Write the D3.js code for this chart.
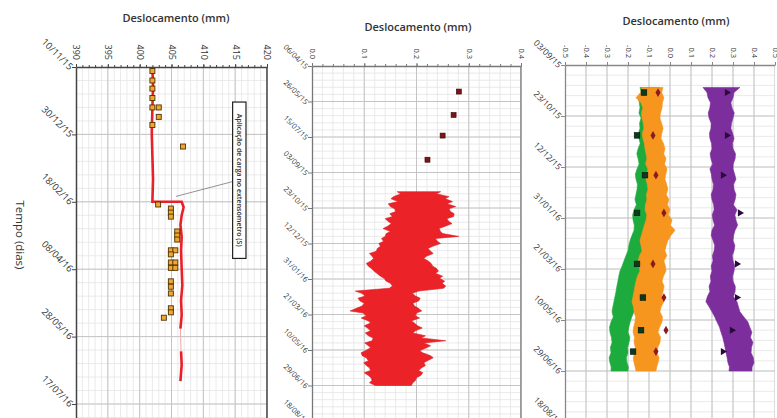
<!DOCTYPE html>
<html>
<head>
<meta charset="utf-8">
<script src="https://cdn.jsdelivr.net/npm/d3@7"></script>
<style>
  body { margin: 0; background: #fff; }
  text { font-family: "Open Sans", sans-serif; fill: #333; }
</style>
</head>
<body>
<div id="chart"></div>
<script>
var parse = d3.timeParse("%d/%m/%y");

// ---- panel 1 : extensometer (390..420)
var p1Ticks = [390, 395, 400, 405, 410, 415, 420];
var p1Dates = ["10/11/15", "30/12/15", "18/02/16", "08/04/16", "28/05/16", "17/07/16"];
var p1LineDates = ["10/11/15", "25/11/15", "10/12/15", "29/12/15", "15/01/16", "01/02/16", "18/02/16", "18/02/16",
  "22/02/16", "28/02/16", "06/03/16", "15/03/16", "25/03/16", "08/04/16", "20/04/16", "01/05/16", "12/05/16",
  "22/05/16", "30/05/16", "08/06/16", "18/06/16", "30/06/16"];
var p1LineValues = [402.0, 402.1, 402.0, 401.9, 402.0, 402.1, 402.0, 406.6,
  406.9, 406.6, 406.4, 406.6, 406.5, 406.6, 406.7, 406.5, 406.6,
  406.4, null, 406.5, 406.6, 406.4];
var p1MarkDates = ["13/11/15", "20/11/15", "26/11/15", "03/12/15", "10/12/15", "10/12/15", "17/12/15", "23/12/15",
  "08/01/16", "20/02/16", "23/02/16", "26/02/16", "29/02/16", "11/03/16", "14/03/16", "17/03/16", "25/03/16",
  "25/03/16", "28/03/16", "03/04/16", "03/04/16", "07/04/16", "07/04/16", "17/04/16", "21/04/16", "26/04/16",
  "07/05/16", "10/05/16", "14/05/16"];
var p1MarkValues = [402.0, 402.0, 402.0, 402.0, 402.0, 403.0, 403.0, 402.0,
  406.8, 402.9, 404.9, 404.9, 404.9, 405.9, 405.9, 405.9, 404.9,
  405.6, 404.9, 404.9, 405.6, 404.9, 405.6, 404.9, 404.9, 404.9,
  404.9, 404.9, 403.8];
var p1Note = "Aplicação de carga no extensómetro (S)";

// ---- panel 2 : single sensor (0..0.4)
var p2Ticks = [0.0, 0.1, 0.2, 0.3, 0.4];
var p2Dates = ["06/04/15", "26/05/15", "15/07/15", "03/09/15", "23/10/15", "12/12/15", "31/01/16",
  "21/03/16", "10/05/16", "29/06/16", "18/08/16"];
var p2MarkDates = ["12/05/15", "14/06/15", "13/07/15", "16/08/15"];
var p2MarkValues = [0.281, 0.271, 0.250, 0.221];
var p2BandDates = ["30/09/15", "03/10/15", "07/10/15", "10/10/15", "14/10/15", "17/10/15", "21/10/15", "24/10/15",
  "28/10/15", "31/10/15", "04/11/15", "07/11/15", "11/11/15", "14/11/15", "18/11/15", "21/11/15", "25/11/15",
  "28/11/15", "02/12/15", "05/12/15", "09/12/15", "12/12/15", "16/12/15", "19/12/15", "23/12/15", "26/12/15",
  "30/12/15", "02/01/16", "06/01/16", "09/01/16", "13/01/16", "16/01/16", "20/01/16", "23/01/16", "27/01/16",
  "30/01/16", "03/02/16", "06/02/16", "10/02/16", "13/02/16", "17/02/16", "20/02/16", "24/02/16", "27/02/16",
  "02/03/16", "05/03/16", "09/03/16", "12/03/16", "16/03/16", "19/03/16", "23/03/16", "26/03/16", "30/03/16",
  "02/04/16", "06/04/16", "09/04/16", "13/04/16", "16/04/16", "20/04/16", "23/04/16", "27/04/16", "30/04/16",
  "04/05/16", "07/05/16", "11/05/16", "14/05/16", "18/05/16", "21/05/16", "25/05/16", "28/05/16", "01/06/16",
  "04/06/16", "08/06/16", "11/06/16", "15/06/16", "18/06/16", "22/06/16", "25/06/16", "29/06/16"];
var p2BandMin = [0.163, 0.170, 0.156, 0.151, 0.165, 0.146, 0.150, 0.158, 0.160, 0.149,
  0.154, 0.140, 0.146, 0.152, 0.144, 0.136, 0.150, 0.142, 0.140, 0.133,
  0.137, 0.128, 0.131, 0.125, 0.123, 0.110, 0.115, 0.118, 0.112, 0.104,
  0.108, 0.113, 0.119, 0.124, 0.131, 0.138, 0.142, 0.150, 0.154, 0.148,
  0.083, 0.095, 0.102, 0.088, 0.092, 0.100, 0.096, 0.086, 0.073, 0.098,
  0.104, 0.094, 0.108, 0.112, 0.100, 0.106, 0.112, 0.102, 0.108, 0.117,
  0.115, 0.101, 0.108, 0.112, 0.102, 0.094, 0.096, 0.104, 0.108, 0.099,
  0.104, 0.110, 0.112, 0.100, 0.108, 0.113, 0.115, 0.110, 0.121];
var p2BandMax = [0.246, 0.238, 0.262, 0.255, 0.269, 0.258, 0.275, 0.262, 0.265, 0.272,
  0.271, 0.258, 0.262, 0.268, 0.254, 0.243, 0.246, 0.250, 0.281, 0.236,
  0.240, 0.246, 0.231, 0.222, 0.227, 0.232, 0.219, 0.214, 0.223, 0.228,
  0.231, 0.238, 0.242, 0.236, 0.250, 0.244, 0.254, 0.249, 0.256, 0.252,
  0.204, 0.192, 0.198, 0.207, 0.204, 0.193, 0.196, 0.203, 0.210, 0.200,
  0.198, 0.206, 0.190, 0.196, 0.202, 0.211, 0.198, 0.193, 0.217, 0.209,
  0.256, 0.214, 0.227, 0.219, 0.206, 0.212, 0.227, 0.232, 0.221, 0.214,
  0.217, 0.210, 0.204, 0.212, 0.208, 0.200, 0.198, 0.193, 0.190];

// ---- panel 3 : three sensors (-0.5..0.5)
var p3Ticks = [-0.5, -0.4, -0.3, -0.2, -0.1, 0.0, 0.1, 0.2, 0.3, 0.4, 0.5];
var p3Dates = ["03/09/15", "23/10/15", "12/12/15", "31/01/16", "21/03/16", "10/05/16", "29/06/16", "18/08/16"];
var p3BandDates = ["25/09/15", "30/09/15", "05/10/15", "10/10/15", "15/10/15", "20/10/15", "25/10/15", "30/10/15",
  "04/11/15", "09/11/15", "14/11/15", "19/11/15", "24/11/15", "29/11/15", "04/12/15", "09/12/15", "14/12/15",
  "19/12/15", "24/12/15", "29/12/15", "03/01/16", "08/01/16", "13/01/16", "18/01/16", "23/01/16", "28/01/16",
  "02/02/16", "07/02/16", "12/02/16", "17/02/16", "22/02/16", "27/02/16", "03/03/16", "08/03/16", "13/03/16",
  "18/03/16", "23/03/16", "28/03/16", "02/04/16", "07/04/16", "12/04/16", "17/04/16", "22/04/16", "27/04/16",
  "02/05/16", "07/05/16", "12/05/16", "17/05/16", "22/05/16", "27/05/16", "01/06/16", "06/06/16", "11/06/16",
  "16/06/16", "21/06/16", "25/06/16", "29/06/16"];
var greenMin = [-0.143, -0.136, -0.152, -0.146, -0.143, -0.148, -0.138, -0.145, -0.143, -0.150,
  -0.148, -0.142, -0.152, -0.158, -0.152, -0.147, -0.157, -0.165, -0.162, -0.155,
  -0.157, -0.162, -0.167, -0.160, -0.171, -0.178, -0.176, -0.170, -0.171, -0.181,
  -0.190, -0.196, -0.200, -0.210, -0.219, -0.228, -0.238, -0.244, -0.248, -0.253,
  -0.257, -0.262, -0.267, -0.272, -0.276, -0.270, -0.281, -0.288, -0.286, -0.279,
  -0.276, -0.284, -0.281, -0.290, -0.286, -0.280, -0.281];
var greenMax = [-0.048, -0.055, -0.038, -0.045, -0.048, -0.052, -0.057, -0.064, -0.062, -0.058,
  -0.067, -0.074, -0.071, -0.080, -0.086, -0.090, -0.095, -0.088, -0.090, -0.082,
  -0.086, -0.092, -0.095, -0.104, -0.100, -0.093, -0.095, -0.102, -0.105, -0.098,
  -0.105, -0.110, -0.114, -0.108, -0.119, -0.124, -0.129, -0.122, -0.133, -0.140,
  -0.143, -0.148, -0.152, -0.162, -0.171, -0.182, -0.190, -0.196, -0.200, -0.191,
  -0.195, -0.202, -0.200, -0.208, -0.205, -0.198, -0.200];
var orangeMin = [-0.133, -0.140, -0.162, -0.138, -0.129, -0.136, -0.133, -0.127, -0.124, -0.132,
  -0.129, -0.122, -0.119, -0.114, -0.110, -0.116, -0.105, -0.111, -0.114, -0.108,
  -0.105, -0.112, -0.110, -0.117, -0.119, -0.110, -0.114, -0.122, -0.129, -0.136,
  -0.143, -0.138, -0.133, -0.145, -0.152, -0.146, -0.143, -0.155, -0.162, -0.167,
  -0.171, -0.176, -0.181, -0.174, -0.171, -0.164, -0.167, -0.173, -0.176, -0.169,
  -0.171, -0.165, -0.167, -0.175, -0.171, -0.166, -0.162];
var orangeMax = [-0.033, -0.040, -0.029, -0.036, -0.038, -0.045, -0.048, -0.040, -0.033, -0.039,
  -0.043, -0.031, -0.024, -0.030, -0.019, -0.026, -0.014, -0.020, -0.024, -0.016,
  -0.010, -0.018, -0.005, -0.012, 0.000, -0.008, 0.010, 0.002, 0.024, 0.005,
  -0.010, -0.018, -0.024, -0.015, -0.029, -0.022, -0.019, -0.031, -0.038, -0.028,
  -0.033, -0.040, -0.029, -0.042, -0.048, -0.036, -0.038, -0.050, -0.057, -0.045,
  -0.048, -0.058, -0.062, -0.052, -0.057, -0.063, -0.067];
var purpleMin = [0.157, 0.176, 0.181, 0.193, 0.190, 0.182, 0.186, 0.196, 0.195, 0.188,
  0.190, 0.198, 0.200, 0.191, 0.195, 0.203, 0.190, 0.197, 0.200, 0.207,
  0.205, 0.196, 0.200, 0.208, 0.210, 0.201, 0.205, 0.212, 0.200, 0.196,
  0.205, 0.213, 0.210, 0.202, 0.205, 0.196, 0.200, 0.192, 0.195, 0.186,
  0.190, 0.178, 0.171, 0.186, 0.200, 0.213, 0.224, 0.236, 0.243, 0.251,
  0.257, 0.262, 0.267, 0.272, 0.276, 0.283, 0.281];
var purpleMax = [0.333, 0.305, 0.300, 0.290, 0.295, 0.306, 0.300, 0.293, 0.290, 0.298,
  0.305, 0.297, 0.300, 0.312, 0.310, 0.301, 0.300, 0.308, 0.314, 0.303,
  0.305, 0.314, 0.310, 0.302, 0.319, 0.309, 0.314, 0.322, 0.310, 0.303,
  0.300, 0.309, 0.305, 0.296, 0.300, 0.308, 0.305, 0.298, 0.300, 0.311,
  0.310, 0.302, 0.319, 0.326, 0.333, 0.352, 0.371, 0.380, 0.390, 0.383,
  0.395, 0.388, 0.386, 0.397, 0.400, 0.391, 0.390];
var p3MarkDates = ["30/09/15", "11/11/15", "20/12/15", "26/01/16", "16/03/16", "18/04/16", "20/05/16", "10/06/16"];
var greenMarks = [-0.124, -0.157, -0.119, -0.157, -0.157, -0.129, -0.138, -0.176];
var orangeMarks = [-0.057, -0.081, -0.067, -0.029, -0.081, -0.029, -0.019, -0.067];
var purpleMarks = [0.271, 0.271, 0.252, 0.333, 0.319, 0.319, 0.295, 0.252];

var W = 777, H = 418;
var svg = d3.select("#chart").append("svg")
    .attr("width", W)
    .attr("height", H);

// builds grid, frame and axes for one panel, returns scales + clipped group
function makePanel(o) {
  var x = d3.scaleLinear().domain(o.xDomain).range([o.left, o.right]);
  var t0 = parse(o.dates[0]);
  var y = d3.scaleTime()
      .domain([t0, d3.timeDay.offset(t0, o.days)])
      .range([o.top, o.top + o.days * o.pxDay]);

  svg.append("clipPath").attr("id", "clip" + o.id)
    .append("rect")
      .attr("x", o.left).attr("y", o.top)
      .attr("width", o.right - o.left).attr("height", H - o.top);

  var g = svg.append("g").attr("clip-path", "url(#clip" + o.id + ")");

  // minor grid
  var minorX = d3.range(o.xDomain[0], o.xDomain[1] + 1e-9, o.minorX);
  var minorY = d3.range(0, o.days + 1, 10).map(function(k) { return d3.timeDay.offset(t0, k); });
  g.append("g").selectAll("line").data(minorX).enter().append("line")
      .attr("x1", function(d) { return x(d); }).attr("x2", function(d) { return x(d); })
      .attr("y1", o.top).attr("y2", H)
      .attr("stroke", "#e4e4e4").attr("stroke-width", 0.8);
  g.append("g").selectAll("line").data(minorY).enter().append("line")
      .attr("x1", o.left).attr("x2", o.right)
      .attr("y1", function(d) { return y(d); }).attr("y2", function(d) { return y(d); })
      .attr("stroke", "#e4e4e4").attr("stroke-width", 0.8);
  // major grid
  g.append("g").selectAll("line").data(o.ticks).enter().append("line")
      .attr("x1", function(d) { return x(d); }).attr("x2", function(d) { return x(d); })
      .attr("y1", o.top).attr("y2", H)
      .attr("stroke", "#c4c4c4").attr("stroke-width", 1);
  g.append("g").selectAll("line").data(o.dates.map(parse)).enter().append("line")
      .attr("x1", o.left).attr("x2", o.right)
      .attr("y1", function(d) { return y(d); }).attr("y2", function(d) { return y(d); })
      .attr("stroke", "#c4c4c4").attr("stroke-width", 1);

  // top axis with rotated labels
  var top = svg.append("g")
      .attr("transform", "translate(0," + o.top + ")")
      .call(d3.axisTop(x).tickValues(o.ticks).tickFormat(o.fmt).tickSize(3).tickSizeOuter(0));
  top.select(".domain").attr("stroke", o.frame).attr("stroke-width", o.frameW);
  top.selectAll(".tick line").attr("stroke", o.frame);
  top.selectAll(".tick text")
      .attr("transform", "rotate(90)")
      .attr("text-anchor", "end")
      .attr("x", -7).attr("y", 0).attr("dy", "0.35em")
      .style("font-size", o.tickFont + "px")
      .style("font-family", "'Open Sans', sans-serif")
      .attr("fill", "#333");
  // minor ticks on top
  svg.append("g")
      .attr("transform", "translate(0," + o.top + ")")
      .call(d3.axisTop(x).tickValues(minorX).tickFormat("").tickSize(2).tickSizeOuter(0))
    .call(function(s) { s.select(".domain").remove(); s.selectAll("line").attr("stroke", o.frame); });

  // left axis with slanted date labels
  var left = svg.append("g")
      .attr("transform", "translate(" + o.left + ",0)")
      .call(d3.axisLeft(y).tickValues(o.dates.map(parse))
        .tickFormat(function(d, i) { return o.dates[i]; })
        .tickSize(4).tickSizeOuter(0));
  left.select(".domain").attr("stroke", o.frame).attr("stroke-width", o.frameW);
  left.selectAll(".tick line").attr("stroke", o.frame);
  left.selectAll(".tick text")
      .attr("text-anchor", "end")
      .attr("x", null).attr("dy", null)
      .attr("transform", "translate(-7,3) rotate(45)")
      .style("font-size", o.dateFont + "px")
      .style("font-family", "'Open Sans', sans-serif")
      .attr("fill", "#2a2a2a");

  // right frame
  if (o.rightFrame) {
    svg.append("line")
        .attr("x1", o.right).attr("x2", o.right).attr("y1", o.top).attr("y2", H)
        .attr("stroke", o.frame).attr("stroke-width", o.frameW);
  }

  // title
  svg.append("text")
      .attr("x", o.titleX).attr("y", o.titleY)
      .attr("text-anchor", "middle")
      .style("font-size", "11px")
      .style("font-weight", "600")
      .attr("fill", "#222")
      .text("Deslocamento (mm)");

  return {x: x, y: y, g: g};
}

var fmtHyphen = function(d) { return d3.format(".1f")(d).replace("\u2212", "-"); };

// ----- panel 1
var P1 = makePanel({id: 1, xDomain: [390, 420], left: 76, right: 267, top: 67, days: 300, pxDay: 1.348,
  ticks: p1Ticks, fmt: d3.format(".0f"), dates: p1Dates, minorX: 1, frame: "#444", frameW: 1.5,
  tickFont: 9, dateFont: 9.5, rightFrame: true, titleX: 176, titleY: 22});

var p1Line = p1LineDates.map(function(d, i) { return {date: parse(d), value: p1LineValues[i]}; });
var line1 = d3.line()
    .defined(function(d) { return d.value !== null; })
    .x(function(d) { return P1.x(d.value); })
    .y(function(d) { return P1.y(d.date); });
P1.g.append("path")
    .datum(p1Line.filter(function(d) { return d.value !== null; }))
    .attr("fill", "none").attr("stroke", "#f3a7a7").attr("stroke-width", 1)
    .attr("d", line1);
P1.g.append("path")
    .datum(p1Line)
    .attr("fill", "none").attr("stroke", "#e8202a").attr("stroke-width", 2.6)
    .attr("d", line1);

P1.g.append("g").selectAll("rect")
    .data(p1MarkDates.map(function(d, i) { return {date: parse(d), value: p1MarkValues[i]}; }))
    .enter().append("rect")
      .attr("x", function(d) { return P1.x(d.value) - 2.5; })
      .attr("y", function(d) { return P1.y(d.date) - 2.5; })
      .attr("width", 5).attr("height", 5)
      .attr("fill", "#f2a530").attr("stroke", "#4d3300").attr("stroke-width", 0.9);

// annotation box
var noteTop = P1.y(parse("06/12/15")), noteBot = P1.y(parse("31/03/16"));
var noteL = P1.x(414.6), noteR = P1.x(416.7);
svg.append("line")
    .attr("x1", noteL).attr("y1", P1.y(parse("03/02/16")))
    .attr("x2", P1.x(405.7)).attr("y2", P1.y(parse("14/02/16")))
    .attr("stroke", "#777").attr("stroke-width", 0.8);
svg.append("rect")
    .attr("x", noteL).attr("y", noteTop)
    .attr("width", noteR - noteL).attr("height", noteBot - noteTop)
    .attr("fill", "#fff").attr("stroke", "#222").attr("stroke-width", 1.2);
svg.append("text")
    .attr("transform", "translate(" + ((noteL + noteR) / 2) + "," + ((noteTop + noteBot) / 2) + ") rotate(90)")
    .attr("text-anchor", "middle").attr("dy", "0.35em")
    .style("font-size", "7px")
    .style("font-weight", "600")
    .attr("fill", "#111")
    .text(p1Note);

// y title
svg.append("text")
    .attr("transform", "translate(16,235) rotate(90)")
    .attr("text-anchor", "middle")
    .style("font-size", "11.5px")
    .attr("fill", "#222")
    .text("Tempo (dias)");

// ----- panel 2
var P2 = makePanel({id: 2, xDomain: [0, 0.4], left: 312, right: 521, top: 66, days: 500, pxDay: 0.71,
  ticks: p2Ticks, fmt: d3.format(".1f"), dates: p2Dates, minorX: 0.02, frame: "#777", frameW: 1.3,
  tickFont: 7.5, dateFont: 7.5, rightFrame: true, titleX: 418, titleY: 31});

var band2 = p2BandDates.map(function(d, i) { return {date: parse(d), lo: p2BandMin[i], hi: p2BandMax[i]}; });
P2.g.append("path")
    .datum(band2)
    .attr("fill", "#ec2229").attr("stroke", "#d81c23").attr("stroke-width", 0.6)
    .attr("d", d3.area()
      .y(function(d) { return P2.y(d.date); })
      .x0(function(d) { return P2.x(d.lo); })
      .x1(function(d) { return P2.x(d.hi); }));
P2.g.append("g").selectAll("rect")
    .data(p2MarkDates.map(function(d, i) { return {date: parse(d), value: p2MarkValues[i]}; }))
    .enter().append("rect")
      .attr("x", function(d) { return P2.x(d.value) - 2.5; })
      .attr("y", function(d) { return P2.y(d.date) - 2.5; })
      .attr("width", 5).attr("height", 5)
      .attr("fill", "#7c1414").attr("stroke", "#3d0505").attr("stroke-width", 0.6);

// ----- panel 3
var P3 = makePanel({id: 3, xDomain: [-0.5, 0.5], left: 565, right: 775, top: 65, days: 400, pxDay: 1.02,
  ticks: p3Ticks, fmt: fmtHyphen, dates: p3Dates, minorX: 0.1, frame: "#888", frameW: 1.3,
  tickFont: 7.5, dateFont: 8.5, rightFrame: false, titleX: 676, titleY: 25});

function band3(lo, hi, color) {
  var data = p3BandDates.map(function(d, i) { return {date: parse(d), lo: lo[i], hi: hi[i]}; });
  P3.g.append("path")
      .datum(data)
      .attr("fill", color).attr("stroke", color).attr("stroke-width", 0.6)
      .attr("d", d3.area()
        .y(function(d) { return P3.y(d.date); })
        .x0(function(d) { return P3.x(d.lo); })
        .x1(function(d) { return P3.x(d.hi); }));
}
band3(greenMin, greenMax, "#1eab3d");
band3(orangeMin, orangeMax, "#f6961e");
band3(purpleMin, purpleMax, "#7c2e9c");

var m3 = p3MarkDates.map(parse);
P3.g.append("g").selectAll("rect")
    .data(greenMarks).enter().append("rect")
      .attr("x", function(d) { return P3.x(d) - 2.8; })
      .attr("y", function(d, i) { return P3.y(m3[i]) - 2.8; })
      .attr("width", 5.6).attr("height", 5.6)
      .attr("fill", "#0c3a1d").attr("stroke", "#04140a").attr("stroke-width", 0.6);
P3.g.append("g").selectAll("path")
    .data(orangeMarks).enter().append("path")
      .attr("transform", function(d, i) { return "translate(" + P3.x(d) + "," + P3.y(m3[i]) + ")"; })
      .attr("d", d3.symbol().type(d3.symbolDiamond).size(22))
      .attr("fill", "#8a1a1e");
P3.g.append("g").selectAll("path")
    .data(purpleMarks).enter().append("path")
      .attr("transform", function(d, i) { return "translate(" + P3.x(d) + "," + P3.y(m3[i]) + ") rotate(90)"; })
      .attr("d", d3.symbol().type(d3.symbolTriangle).size(22))
      .attr("fill", "#2a0a3a");
</script>
</body>
</html>
